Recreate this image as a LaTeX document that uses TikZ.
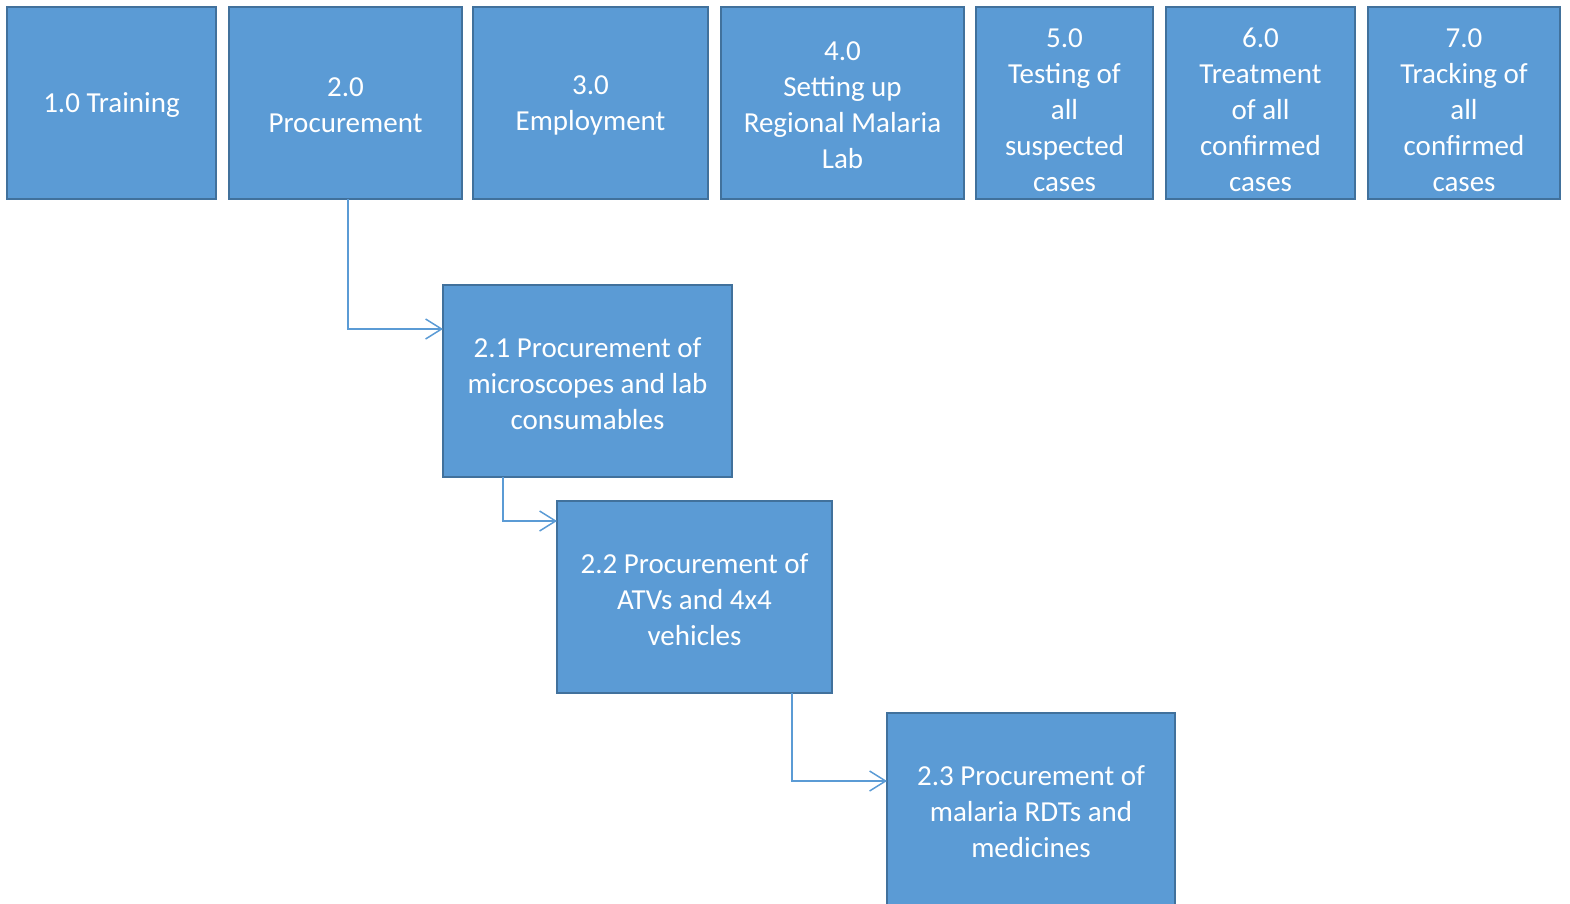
\documentclass[tikz,border=0pt]{standalone}
\usepackage{fontspec}
\setmainfont{Carlito}
\usetikzlibrary{arrows.meta}
\definecolor{boxfill}{HTML}{5B9BD5}
\definecolor{boxline}{HTML}{41719C}
\definecolor{connline}{HTML}{5B9BD5}
\tikzset{
  wbsbox/.style={draw=boxline, fill=boxfill, line width=2.5pt, inner sep=0pt, outer sep=0pt,
    minimum height=192pt},
  wbstext/.style={text=white, align=center, inner sep=0pt,
    font=\fontsize{29}{36}\selectfont},
  conn/.style={draw=connline, line width=1.5pt,
    -{Straight Barb[length=16pt,width=20pt,line width=1.5pt]}},
}
\begin{document}
\begin{tikzpicture}[x=1pt,y=-1pt]
\useasboundingbox (0,0) rectangle (1570,903);
% top level of the work breakdown
\node[wbsbox, minimum width=209pt] (b1) at (111.5,103) {};
\node[wbsbox, minimum width=233pt] (b2) at (345.5,103) {};
\node[wbsbox, minimum width=235pt] (b3) at (590.5,103) {};
\node[wbsbox, minimum width=243pt] (b4) at (842.5,103) {};
\node[wbsbox, minimum width=177pt] (b5) at (1064.5,103) {};
\node[wbsbox, minimum width=189pt] (b6) at (1260.5,103) {};
\node[wbsbox, minimum width=192pt] (b7) at (1464,103) {};
\node[wbstext] (t1) at ([yshift=-2.5pt]b1.center) {1.0 Training};
\node[wbstext] (t2) at ([yshift=-2.5pt]b2.center) {2.0\\Procurement};
\node[wbstext] (t3) at ([yshift=-2.5pt]b3.center) {3.0\\Employment};
\node[wbstext] (t4) at ([yshift=-2.5pt]b4.center) {4.0\\Setting up\\Regional Malaria\\Lab};
\node[wbstext] (t5) at ([yshift=-7pt]b5.center) {5.0\\Testing of\\all\\suspected\\cases};
\node[wbstext] (t6) at ([yshift=-7pt]b6.center) {6.0\\Treatment\\of all\\confirmed\\cases};
\node[wbstext] (t7) at ([yshift=-7pt]b7.center) {7.0\\Tracking of\\all\\confirmed\\cases};
% procurement sub-packages
\node[wbsbox, minimum width=289pt] (b21) at (587.5,381) {};
\node[wbsbox, minimum width=275pt] (b22) at (694.5,597) {};
\node[wbsbox, minimum width=288pt] (b23) at (1031,809) {};
\node[wbstext] (t21) at ([yshift=-2.5pt]b21.center) {2.1 Procurement of\\microscopes and lab\\consumables};
\node[wbstext] (t22) at ([yshift=-2.5pt]b22.center) {2.2 Procurement of\\ATVs and 4x4\\vehicles};
\node[wbstext] (t23) at ([yshift=-2.5pt]b23.center) {2.3 Procurement of\\malaria RDTs and\\medicines};
% connectors
\draw[conn] ([xshift=2.5pt]b2.south) |- ([yshift=-44pt]b21.north west);
\draw[conn] ([xshift=60pt]b21.south west) |- ([yshift=-20pt]b22.north west);
\draw[conn] ([xshift=235pt]b22.south west) |- ([yshift=-68pt]b23.north west);
\end{tikzpicture}
\end{document}
